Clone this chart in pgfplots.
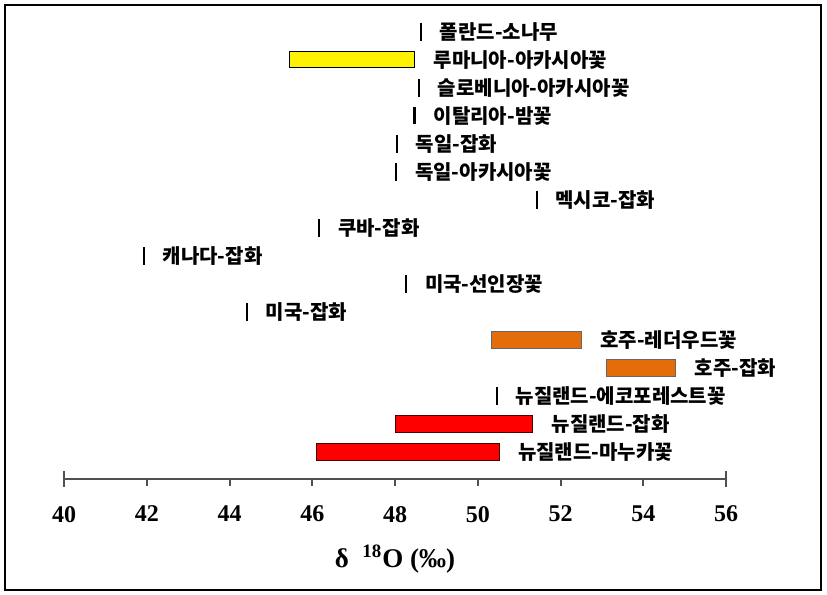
\documentclass[border=0pt]{standalone}
\usepackage{fontspec}
\setmainfont{Liberation Serif}
\newfontfamily\kor{Noto Sans CJK KR}
\usepackage{pgfplots}
\pgfplotsset{compat=1.18}
\definecolor{barorange}{HTML}{E46C0A}
\definecolor{axgray}{HTML}{505050}
\begin{document}
\begin{tikzpicture}
\begin{axis}[
  x=20.6875pt, y=14.01pt,
  xmin=40, xmax=56, ymin=0.036, ymax=16.9,
  clip=false,
  axis x line=bottom, axis y line=none,
  axis line style={-, line width=1pt, color=axgray},
  xtick={40,42,...,56}, ytick=\empty,
  tick align=outside, major tick length=3.5pt,
  tick style={line width=1pt, color=axgray},
  extra x ticks={40,56}, extra x tick labels={},
  extra x tick style={tick align=center, major tick length=8pt},
  /pgf/number format/assume math mode=true,
  xticklabel style={font=\bfseries\fontsize{12}{14}\selectfont, yshift=-6.5pt},
  xlabel={\bfseries\fontsize{13.5}{16}\selectfont δ\ \ \textsuperscript{18}O (‰)},
  xlabel style={at={(axis description cs:0.5,0)}, anchor=base, yshift=-44.5pt},
]
% floating bars (start, end)
\addplot[fill=yellow, draw=black, line width=0.5pt] coordinates {(45.45,14.71) (48.48,14.71) (48.48,15.29) (45.45,15.29)} -- cycle;
\addplot[fill=barorange, draw=black!60, line width=0.5pt] coordinates {(50.34,4.71) (52.51,4.71) (52.51,5.29) (50.34,5.29)} -- cycle;
\addplot[fill=barorange, draw=black!60, line width=0.5pt] coordinates {(53.10,3.71) (54.79,3.71) (54.79,4.29) (53.10,4.29)} -- cycle;
\addplot[fill=red, draw=black!70!red, line width=0.5pt] coordinates {(48.00,1.71) (51.33,1.71) (51.33,2.29) (48.00,2.29)} -- cycle;
\addplot[fill=red, draw=black!70!red, line width=0.5pt] coordinates {(46.11,0.71) (50.52,0.71) (50.52,1.29) (46.11,1.29)} -- cycle;
% single values
\addplot[only marks, mark=|, mark size=4.5pt, mark options={line width=1pt, black}] coordinates {
  (48.63,16) (48.58,14) (48.05,12) (48.03,11) (51.42,10) (46.17,9) (41.93,8) (48.27,7) (44.42,6) (50.46,3)};
\addplot[only marks, mark=|, mark size=4.2pt, mark options={line width=1.6pt, black}] coordinates {(48.48,13)};
% labels
\addplot[draw=none, mark=none, nodes near coords, point meta=explicit symbolic,
  nodes near coords align={horizontal},
  every node near coord/.append style={anchor=west, inner sep=0pt, xshift=9.25pt, text=black,
    font=\fontsize{10}{12}\selectfont\kor\bfseries}] coordinates {
  (48.63,16) [폴란드-소나무]
  (48.48,15) [루마니아-아카시아꽃]
  (48.58,14) [슬로베니아-아카시아꽃]
  (48.48,13) [이탈리아-밤꽃]
  (48.05,12) [독일-잡화]
  (48.03,11) [독일-아카시아꽃]
  (51.42,10) [멕시코-잡화]
  (46.17,9) [쿠바-잡화]
  (41.93,8) [캐나다-잡화]
  (48.27,7) [미국-선인장꽃]
  (44.42,6) [미국-잡화]
  (52.51,5) [호주-레더우드꽃]
  (54.79,4) [호주-잡화]
  (50.46,3) [뉴질랜드-에코포레스트꽃]
  (51.33,2) [뉴질랜드-잡화]
  (50.52,1) [뉴질랜드-마누카꽃]
};
\draw[line width=0.75pt] (axis cs:38.574,16.953) rectangle (axis cs:58.296,-3.925);
\path (axis cs:38.453,17.131) rectangle (axis cs:58.441,-4.104);
\end{axis}
\end{tikzpicture}
\end{document}
